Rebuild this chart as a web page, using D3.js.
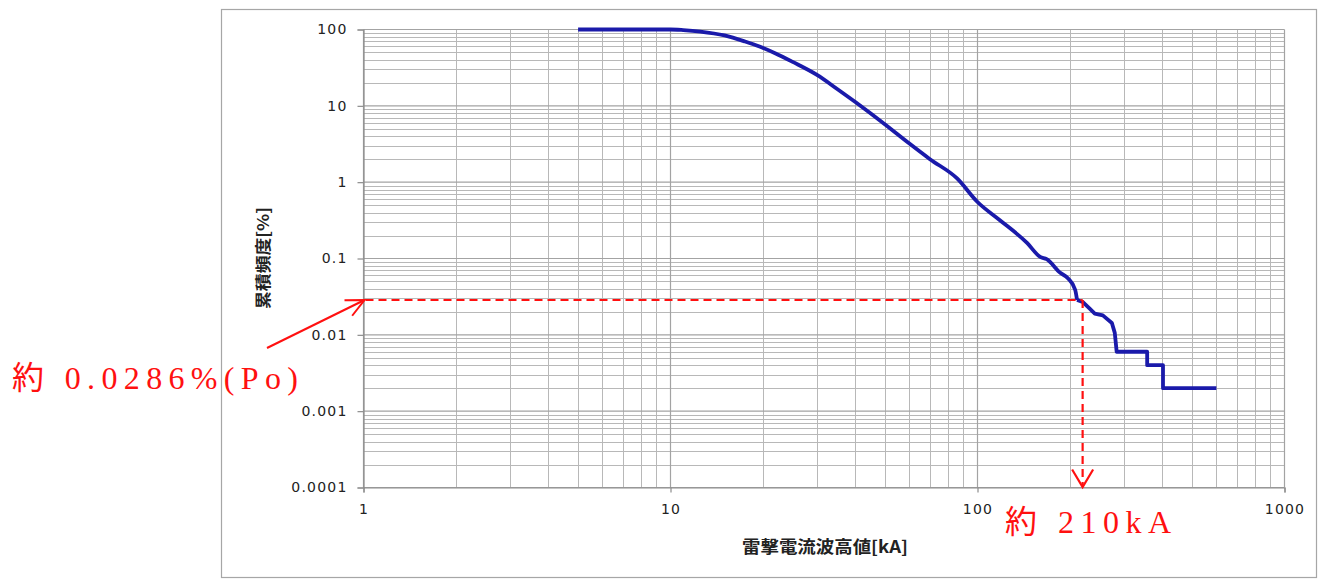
<!DOCTYPE html>
<html>
<head>
<meta charset="utf-8">
<script src="https://cdn.jsdelivr.net/npm/d3@7"></script>
<style>
  html, body { margin: 0; padding: 0; background: #ffffff; }
  svg { display: block; }
</style>
</head>
<body>
<svg id="chart" width="1321" height="583"></svg>
<script>
// ---- data ----
// smooth part of the distribution
const currentKA = [5, 10, 11, 12.5, 15, 17.5, 19.5, 22, 25, 30, 35, 40, 50, 60, 70, 85.8, 100, 118, 145, 160, 168, 186, 197, 208, 211];
const cumFreq   = [100, 100, 98.2, 94, 83.6, 69.5, 59.7, 48.5, 37.6, 25.4, 16.5, 11.2, 5.7, 3.2, 2.0, 1.12, 0.55, 0.32, 0.16, 0.105, 0.098, 0.065, 0.055, 0.039, 0.0286];
// stepped tail of the distribution
const tailKA    = [211, 220, 232, 241, 256, 274, 280, 284, 357, 357, 402, 402, 600];
const tailFreq  = [0.0286, 0.027, 0.022, 0.019, 0.018, 0.0143, 0.0106, 0.006, 0.006, 0.004, 0.004, 0.002, 0.002];

const xTickValues = [1, 10, 100, 1000];
const xTickLabels = ["1", "10", "100", "1000"];
const yTickValues = [0.0001, 0.001, 0.01, 0.1, 1, 10, 100];
const yTickLabels = ["0.0001", "0.001", "0.01", "0.1", "1", "10", "100"];

const refCurrent = 220;     // 約210kA marker position
const refFreq = 0.0286;     // 約0.0286% marker position
const refCurrentText = "約 210kA";
const refFreqText = "約 0.0286%(Po)";

const xTitle = "雷撃電流波高値[kA]";
const yTitle = "累積頻度[%]";

// ---- layout ----
const svg = d3.select("#chart");
const pLeft = 363.5, pRight = 1284.5, pTop = 29.5, pBottom = 487.5;

const x = d3.scaleLog().domain([1, 1000]).range([pLeft, pRight]);
const y = d3.scaleLog().domain([0.0001, 100]).range([pBottom, pTop]);

// outer frame
svg.append("rect")
  .attr("x", 221.5).attr("y", 9.5).attr("width", 1095).attr("height", 568)
  .attr("fill", "#ffffff").attr("stroke", "#a6a6a6").attr("stroke-width", 1.2);

// ---- grid ----
const minorX = [], minorY = [];
[1, 10, 100].forEach(d => { for (let k = 2; k <= 9; k++) minorX.push(d * k); });
[0.0001, 0.001, 0.01, 0.1, 1, 10].forEach(d => { for (let k = 2; k <= 9; k++) minorY.push(d * k); });

const grid = svg.append("g");
grid.selectAll("line.mx").data(minorX).join("line")
  .attr("x1", d => Math.round(x(d)) + 0.5).attr("x2", d => Math.round(x(d)) + 0.5)
  .attr("y1", pTop).attr("y2", pBottom)
  .attr("stroke", "#b8b8b8").attr("stroke-width", 1);
grid.selectAll("line.my").data(minorY).join("line")
  .attr("y1", d => Math.round(y(d)) + 0.5).attr("y2", d => Math.round(y(d)) + 0.5)
  .attr("x1", pLeft).attr("x2", pRight)
  .attr("stroke", "#b8b8b8").attr("stroke-width", 1);
grid.selectAll("line.Mx").data(xTickValues).join("line")
  .attr("x1", d => x(d)).attr("x2", d => x(d))
  .attr("y1", pTop).attr("y2", pBottom)
  .attr("stroke", "#a3a3a3").attr("stroke-width", 1.2);
grid.selectAll("line.My").data(yTickValues).join("line")
  .attr("y1", d => y(d)).attr("y2", d => y(d))
  .attr("x1", pLeft).attr("x2", pRight)
  .attr("stroke", "#a3a3a3").attr("stroke-width", 1.2);

// ---- axes ----
const axisFont = "'DejaVu Sans', sans-serif";
const yAxis = svg.append("g").attr("transform", `translate(${pLeft},0)`)
  .call(d3.axisLeft(y).tickValues(yTickValues).tickSize(6).tickPadding(10)
    .tickFormat((d, i) => yTickLabels[i]));
const xAxis = svg.append("g").attr("transform", `translate(0,${pBottom})`)
  .call(d3.axisBottom(x).tickValues(xTickValues).tickSize(5).tickPadding(12)
    .tickFormat((d, i) => xTickLabels[i]));
[xAxis, yAxis].forEach(g => {
  g.select(".domain").attr("stroke", "#8c8c8c").attr("stroke-width", 1.2);
  g.selectAll(".tick line").attr("stroke", "#8c8c8c").attr("stroke-width", 1.2);
  g.selectAll(".tick text").attr("fill", "#222").style("font-family", axisFont)
    .style("font-size", "14px").style("letter-spacing", "1.2px");
});

// ---- curve ----
const smoothPts = currentKA.map((c, i) => [c, cumFreq[i]]);
const tailPts = tailKA.map((c, i) => [c, tailFreq[i]]);
const smoothLine = d3.line().x(d => x(d[0])).y(d => y(d[1])).curve(d3.curveMonotoneX);
const stepLine = d3.line().x(d => x(d[0])).y(d => y(d[1]));
const curveStyle = p => p.attr("fill", "none").attr("stroke", "#1a1aaa").attr("stroke-width", 3.8)
  .attr("stroke-linejoin", "round").attr("stroke-linecap", "butt");
svg.append("path").datum(smoothPts).attr("d", smoothLine).call(curveStyle);
svg.append("path").datum(tailPts).attr("d", stepLine).call(curveStyle);

// ---- titles ----
const cjkBold = "'Noto Sans CJK JP', 'Noto Sans', sans-serif";
svg.append("text")
  .attr("x", 825).attr("y", 553)
  .attr("text-anchor", "middle")
  .attr("textLength", 166).attr("lengthAdjust", "spacingAndGlyphs")
  .style("font-family", cjkBold).style("font-weight", "bold").style("font-size", "17px")
  .attr("fill", "#222").text(xTitle);
svg.append("text")
  .attr("transform", "translate(269,258) rotate(-90)")
  .attr("text-anchor", "middle")
  .attr("textLength", 102).attr("lengthAdjust", "spacingAndGlyphs")
  .style("font-family", cjkBold).style("font-weight", "bold").style("font-size", "16px")
  .attr("fill", "#222").text(yTitle);

// ---- annotations ----
const red = "#ff1010";
const ax = x(refCurrent), ay = y(refFreq);
svg.append("line")
  .attr("x1", pLeft + 2).attr("x2", ax).attr("y1", ay).attr("y2", ay)
  .attr("stroke", red).attr("stroke-width", 2.2).attr("stroke-dasharray", "8,5");
svg.append("line")
  .attr("x1", ax).attr("x2", ax).attr("y1", ay).attr("y2", pBottom - 2)
  .attr("stroke", red).attr("stroke-width", 2.2).attr("stroke-dasharray", "8,5");
// down arrow head
svg.append("path")
  .attr("d", `M${ax - 10.5},${pBottom - 18} L${ax},${pBottom - 0.5} L${ax + 10.5},${pBottom - 18}`)
  .attr("fill", "none").attr("stroke", red).attr("stroke-width", 2.2);

// pointer from label to the y axis
const tipX = x(1) + 1, tipY = ay;
const tailX = 267, tailY = 348;
svg.append("line")
  .attr("x1", tailX).attr("y1", tailY).attr("x2", tipX).attr("y2", tipY)
  .attr("stroke", red).attr("stroke-width", 2);
const ang = Math.atan2(tailY - tipY, tailX - tipX);
const hl = 20, spread = Math.PI / 7;
svg.append("path")
  .attr("d", `M${tipX + hl * Math.cos(ang - spread)},${tipY + hl * Math.sin(ang - spread)} L${tipX},${tipY} L${tipX + hl * Math.cos(ang + spread)},${tipY + hl * Math.sin(ang + spread)}`)
  .attr("fill", "none").attr("stroke", red).attr("stroke-width", 2);

const annFont = "'Liberation Serif', 'DejaVu Serif', 'Noto Sans CJK JP', serif";
svg.append("text")
  .attr("x", 12).attr("y", 389)
  .attr("textLength", 286).attr("lengthAdjust", "spacing")
  .style("font-family", annFont).style("font-size", "32px")
  .attr("fill", red).text(refFreqText);
svg.append("text")
  .attr("x", 1005).attr("y", 533)
  .attr("textLength", 166).attr("lengthAdjust", "spacing")
  .style("font-family", annFont).style("font-size", "32px")
  .attr("fill", red).text(refCurrentText);
</script>
</body>
</html>
